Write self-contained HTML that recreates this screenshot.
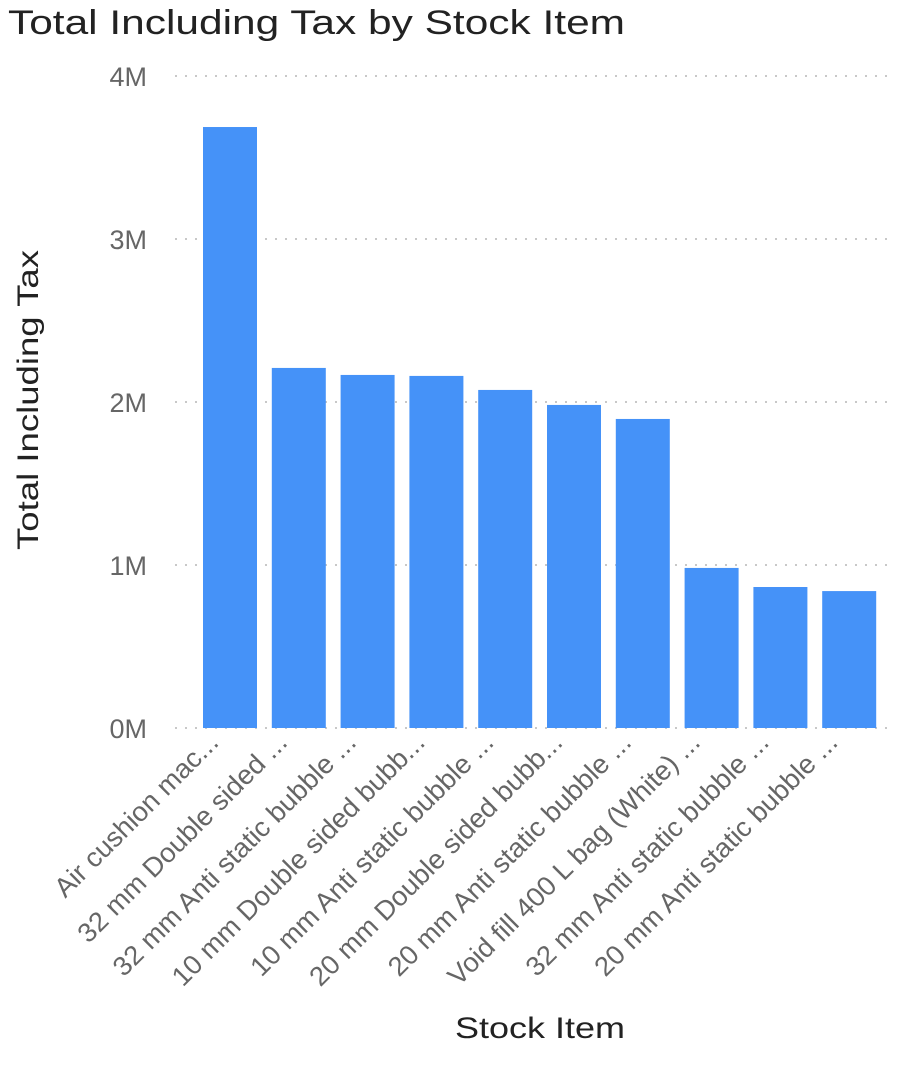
<!DOCTYPE html>
<html><head><meta charset="utf-8">
<style>
html,body{margin:0;padding:0;background:#fff;width:900px;height:1090px;overflow:hidden;}
svg{display:block;font-family:"Liberation Sans","DejaVu Sans",sans-serif;}
</style></head>
<body>
<svg id="chart" width="900" height="1090">
<text x="8" y="34" font-size="34" fill="#222" textLength="617" lengthAdjust="spacingAndGlyphs">Total Including Tax by Stock Item</text>
<text transform="translate(38,400) rotate(-90)" text-anchor="middle" font-size="30" fill="#222" textLength="300" lengthAdjust="spacingAndGlyphs">Total Including Tax</text>
<text x="540" y="1038" text-anchor="middle" font-size="30" fill="#222" textLength="170" lengthAdjust="spacingAndGlyphs">Stock Item</text>
<g id="grid"></g><g id="bars"></g><g id="xl"></g>
</svg>
<script>
const categories=["Air cushion mac...","32 mm Double sided ...","32 mm Anti static bubble ...","10 mm Double sided bubb...","10 mm Anti static bubble ...","20 mm Double sided bubb...","20 mm Anti static bubble ...","Void fill 400 L bag (White) ...","32 mm Anti static bubble ...","20 mm Anti static bubble ..."];
const values=[3.687,2.209,2.166,2.16,2.074,1.982,1.896,0.982,0.865,0.84];
const ticks=[0,1,2,3,4];
const tickLabels=["0M","1M","2M","3M","4M"];
const NS="http://www.w3.org/2000/svg";
const y0=728,pxPerM=163;
const yScale=v=>y0-v*pxPerM;
const x0=203,step=68.8,bw=54;
const xScale=i=>x0+i*step;
const grid=document.getElementById('grid'),bars=document.getElementById('bars'),xl=document.getElementById('xl');
ticks.forEach((t,i)=>{
 const l=document.createElementNS(NS,'line');
 l.setAttribute('x1',175);l.setAttribute('x2',895);
 l.setAttribute('y1',yScale(t));l.setAttribute('y2',yScale(t));
 l.setAttribute('stroke','#c8c8c8');l.setAttribute('stroke-width','2');l.setAttribute('stroke-dasharray','2 8');
 
 
 grid.appendChild(l);
 const tx=document.createElementNS(NS,'text');
 tx.setAttribute('x',147);tx.setAttribute('y',yScale(t)+10);tx.setAttribute('text-anchor','end');
 tx.setAttribute('font-size','27');tx.setAttribute('fill','#666');
 tx.textContent=tickLabels[i];
 
 
 grid.appendChild(tx);
});
values.forEach((v,i)=>{
 const r=document.createElementNS(NS,'rect');
 r.setAttribute('x',xScale(i));r.setAttribute('width',bw);
 r.setAttribute('y',yScale(v));r.setAttribute('height',y0-yScale(v));
 r.setAttribute('fill','#4592f8');
 
 
 bars.appendChild(r);
 const t=document.createElementNS(NS,'text');
 const cx=xScale(i)+bw/2-10,cy=744;
 t.setAttribute('transform','translate('+cx+','+cy+') rotate(-45)');
 t.setAttribute('text-anchor','end');t.setAttribute('font-size','27');t.setAttribute('fill','#666');
 t.textContent=categories[i];
 
 
 xl.appendChild(t);
 const len=t.getComputedTextLength();
 if(len>0){t.setAttribute('textLength',len*1.02);t.setAttribute('lengthAdjust','spacingAndGlyphs');}
});
</script>
</body></html>
